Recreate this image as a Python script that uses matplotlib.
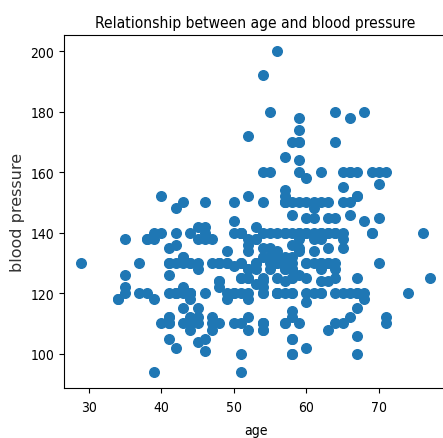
import matplotlib
matplotlib.use("Agg")
import matplotlib.pyplot as plt

# age / resting blood pressure (303 patients)
ages = [
    63, 37, 41, 56, 57, 57, 56, 44, 52, 57,
    54, 48, 49, 64, 58, 50, 58, 66, 43, 69,
    59, 44, 42, 61, 40, 71, 59, 51, 65, 53,
    41, 65, 44, 54, 51, 46, 54, 54, 65, 65,
    51, 48, 45, 53, 39, 52, 44, 47, 53, 53,
    51, 66, 62, 44, 63, 52, 48, 45, 34, 57,
    71, 54, 52, 41, 58, 35, 51, 45, 44, 62,
    54, 51, 29, 51, 43, 55, 51, 59, 52, 58,
    41, 45, 60, 52, 42, 67, 68, 46, 54, 58,
    48, 57, 52, 54, 45, 53, 62, 52, 43, 53,
    42, 59, 63, 42, 50, 68, 69, 45, 50, 50,
    64, 57, 64, 43, 55, 37, 41, 56, 46, 46,
    64, 59, 41, 54, 39, 34, 47, 67, 52, 74,
    54, 49, 42, 41, 41, 49, 60, 62, 57, 64,
    51, 43, 42, 67, 76, 70, 44, 60, 44, 42,
    66, 71, 64, 66, 39, 58, 47, 35, 58, 56,
    56, 55, 41, 38, 38, 67, 67, 62, 63, 53,
    56, 48, 58, 58, 60, 40, 60, 64, 43, 57,
    55, 65, 61, 58, 50, 44, 60, 54, 50, 41,
    51, 58, 54, 60, 60, 59, 46, 67, 62, 65,
    44, 60, 58, 68, 62, 52, 59, 60, 49, 59,
    57, 61, 39, 61, 56, 43, 62, 63, 65, 48,
    63, 55, 65, 56, 54, 70, 62, 35, 59, 64,
    47, 57, 55, 64, 70, 51, 58, 60, 77, 35,
    70, 59, 64, 57, 56, 48, 56, 66, 54, 69,
    51, 43, 62, 67, 59, 45, 58, 50, 62, 38,
    66, 52, 53, 63, 54, 66, 55, 49, 54, 56,
    46, 61, 67, 58, 47, 52, 58, 57, 58, 61,
    42, 52, 59, 40, 61, 46, 59, 57, 57, 55,
    61, 58, 58, 67, 44, 63, 63, 59, 57, 45,
    68, 57, 57,
]
blood_pressure = [
    145, 130, 130, 120, 120, 140, 140, 120, 172, 150,
    140, 130, 130, 110, 150, 120, 120, 150, 150, 140,
    135, 130, 140, 150, 140, 160, 150, 110, 140, 130,
    105, 120, 130, 125, 125, 142, 135, 150, 155, 160,
    140, 130, 104, 130, 140, 120, 140, 138, 128, 138,
    130, 120, 130, 108, 135, 134, 122, 115, 118, 128,
    110, 108, 118, 135, 140, 138, 100, 130, 120, 124,
    120, 94, 130, 140, 122, 135, 125, 140, 128, 105,
    112, 128, 102, 152, 102, 115, 118, 101, 110, 100,
    124, 132, 138, 132, 112, 142, 140, 108, 130, 130,
    148, 178, 140, 120, 129, 120, 160, 138, 120, 110,
    180, 150, 140, 110, 130, 120, 130, 120, 105, 138,
    130, 138, 112, 108, 94, 118, 112, 152, 136, 120,
    160, 134, 120, 110, 126, 130, 120, 128, 110, 128,
    120, 115, 120, 106, 140, 156, 118, 150, 120, 130,
    160, 112, 170, 146, 138, 130, 130, 122, 125, 130,
    120, 132, 120, 138, 138, 160, 120, 140, 130, 138,
    120, 110, 120, 132, 130, 110, 117, 140, 120, 150,
    132, 150, 130, 112, 150, 112, 130, 124, 140, 110,
    130, 128, 120, 145, 140, 170, 150, 125, 120, 110,
    110, 125, 105, 180, 160, 125, 110, 158, 120, 140,
    128, 120, 118, 145, 125, 132, 130, 130, 135, 130,
    150, 140, 138, 200, 110, 145, 120, 120, 170, 125,
    108, 165, 160, 120, 130, 140, 125, 140, 125, 126,
    160, 174, 145, 152, 132, 124, 134, 160, 192, 140,
    140, 132, 138, 100, 160, 142, 128, 144, 150, 120,
    178, 112, 123, 108, 110, 112, 180, 118, 122, 130,
    120, 134, 120, 100, 110, 125, 146, 124, 136, 138,
    136, 128, 126, 152, 140, 140, 134, 154, 110, 128,
    148, 114, 170, 152, 120, 140, 124, 164, 140, 110,
    144, 130, 130,
]
x_ticks = [30, 40, 50, 60, 70]
y_ticks = [100, 120, 140, 160, 180, 200]

# narrow lettering as in the reference (DejaVu Sans Condensed)
plt.rcParams['font.family'] = ['DejaVu Sans']
plt.rcParams['font.stretch'] = 'condensed'

fig = plt.figure(figsize=(4.43, 4.39), dpi=100)
# the reference is cropped, the right spine falls just outside the image
ax = fig.add_axes([0.1445, 0.114, 0.865, 0.804])

ax.scatter(ages, blood_pressure, s=48, color='#1f77b4')
ax.set_xticks(x_ticks)
ax.set_yticks(y_ticks)
ax.tick_params(labelsize=10)
ax.tick_params(axis='x', pad=5)

ax.set_title("Relationship between age and blood pressure", fontsize=11.2)
ax.set_xlabel("age", fontsize=10, labelpad=7)
ax.set_ylabel("blood pressure", fontsize=11.5, fontstretch='normal', color='#333333')

fig.savefig("out.png", dpi=100)
